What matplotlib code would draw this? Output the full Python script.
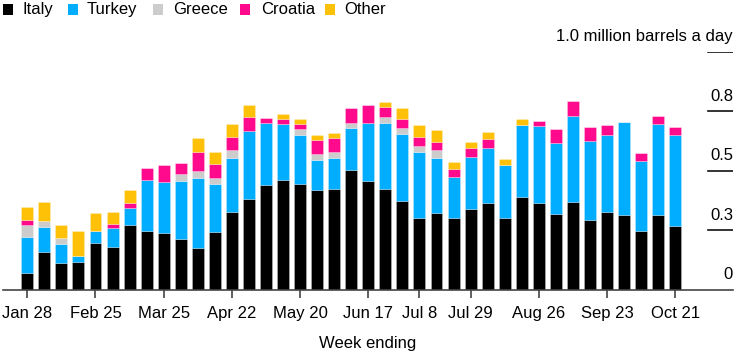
import matplotlib
matplotlib.use("Agg")
import matplotlib.pyplot as plt
from matplotlib.patches import Rectangle
from matplotlib.transforms import offset_copy
import numpy as np

plt.rcParams['font.family'] = ['Liberation Sans', 'DejaVu Sans']

weeks = ["Jan 28", "Feb 4", "Feb 11", "Feb 18", "Feb 25", "Mar 4", "Mar 11", "Mar 18",
         "Mar 25", "Apr 1", "Apr 8", "Apr 15", "Apr 22", "Apr 29", "May 6", "May 13",
         "May 20", "May 27", "Jun 3", "Jun 10", "Jun 17", "Jun 24", "Jul 1", "Jul 8",
         "Jul 15", "Jul 22", "Jul 29", "Aug 5", "Aug 12", "Aug 19", "Aug 26", "Sep 2",
         "Sep 9", "Sep 16", "Sep 23", "Sep 30", "Oct 7", "Oct 14", "Oct 21"]

italy = [0.071, 0.156, 0.110, 0.116, 0.197, 0.180, 0.271, 0.247, 0.236, 0.211,
         0.176, 0.242, 0.327, 0.382, 0.439, 0.459, 0.444, 0.418, 0.424, 0.504,
         0.458, 0.424, 0.373, 0.302, 0.323, 0.302, 0.337, 0.362, 0.302, 0.388,
         0.362, 0.317, 0.368, 0.291, 0.327, 0.312, 0.247, 0.312, 0.266]
turkey = [0.151, 0.105, 0.081, 0.025, 0.050, 0.077, 0.071, 0.213, 0.217, 0.246,
          0.293, 0.202, 0.227, 0.283, 0.262, 0.237, 0.207, 0.126, 0.128, 0.174,
          0.244, 0.278, 0.282, 0.278, 0.231, 0.172, 0.219, 0.234, 0.223, 0.303,
          0.324, 0.297, 0.363, 0.335, 0.324, 0.394, 0.292, 0.384, 0.385]
greece = [0.050, 0.025, 0.025, 0, 0, 0, 0, 0, 0, 0.027,
          0.029, 0.025, 0.031, 0, 0, 0, 0.025, 0.025, 0.025, 0.022,
          0, 0.024, 0.025, 0.025, 0.031, 0, 0, 0, 0, 0,
          0, 0, 0, 0, 0, 0, 0, 0, 0]
croatia = [0.020, 0, 0, 0, 0, 0.019, 0.020, 0.049, 0.070, 0.050,
           0.081, 0.060, 0.055, 0.060, 0.020, 0.020, 0.020, 0.060, 0.059, 0.062,
           0.074, 0.041, 0.035, 0.035, 0.035, 0.034, 0.039, 0.038, 0, 0,
           0.021, 0.060, 0.061, 0.059, 0.040, 0, 0.035, 0.035, 0.034]
other = [0.056, 0.081, 0.056, 0.106, 0.076, 0.052, 0.056, 0, 0, 0,
         0.056, 0.050, 0.056, 0.050, 0, 0.021, 0.021, 0.020, 0.021, 0,
         0, 0.022, 0.050, 0.050, 0.050, 0.027, 0.025, 0.027, 0.024, 0.026,
         0, 0, 0, 0, 0, 0, 0, 0, 0]

series_names = ["Italy", "Turkey", "Greece", "Croatia", "Other"]
series_colors = ["#000000", "#00adff", "#cccccc", "#ff0a8c", "#ffc107"]
tick_weeks = ["Jan 28", "Feb 25", "Mar 25", "Apr 22", "May 20", "Jun 17",
              "Jul 8", "Jul 29", "Aug 26", "Sep 23", "Oct 21"]
y_ticks = [0, 0.25, 0.5, 0.75, 1.0]
y_labels = ["0", "0.3", "0.5", "0.8", "1.0 million barrels a day"]

W, H = 746, 360
fig = plt.figure(figsize=(W / 100, H / 100), dpi=100)
ax = fig.add_axes([3 / W, (H - 289.5) / H, 730 / W, (289.5 - 51.7) / H])

x = np.arange(len(weeks))
bottom = np.zeros(len(weeks))
for name, vals, col in zip(series_names, [italy, turkey, greece, croatia, other], series_colors):
    v = np.array(vals, dtype=float)
    ax.bar(x, v, bottom=bottom, width=0.70, color=col, edgecolor=(1, 1, 1, 0.35),
           linewidth=0.5, zorder=2)
    bottom += v

ax.set_xlim(-1.425, 41.39)
ax.set_ylim(0, 1.0)

for s in ["top", "right", "left"]:
    ax.spines[s].set_visible(False)
ax.spines["bottom"].set_color("#444444")
ax.spines["bottom"].set_linewidth(1.2)
ax.spines["bottom"].set_zorder(3)

ax.set_yticks([])
ax.set_xticks([weeks.index(t) for t in tick_weeks])
ax.set_xticklabels(tick_weeks, fontsize=12, color="#000000")
ax.tick_params(axis="x", length=5.5, width=1.2, color="#444444", pad=6.5)

ax.set_xlabel("Week ending", fontsize=12, color="#000000", labelpad=10.5)

for yv, lab in zip(y_ticks, y_labels):
    if yv > 0:
        ax.axhline(yv, xmin=0.9658, xmax=1.0, color="#111111", lw=1.2, zorder=3)
    tr = offset_copy(ax.get_yaxis_transform(), fig=fig, x=0, y=7.5, units="points")
    ax.text(1.0, yv, lab, transform=tr, ha="right", va="baseline",
            fontsize=12, color="#000000")

# legend
lx_sq = [3.3, 68.3, 153.3, 240.0, 325.0]
lx_tx = [22.7, 87.0, 173.0, 261.0, 344.0]
for name, col, xs, xt in zip(series_names, series_colors, lx_sq, lx_tx):
    fig.add_artist(Rectangle((xs / W, (H - 14.5) / H), 10 / W, 10 / H,
                             transform=fig.transFigure, facecolor=col,
                             edgecolor="none"))
    fig.text(xt / W, (H - 9.5) / H, name, ha="left", va="center",
             fontsize=12, color="#000000")

fig.savefig("out.png", dpi=100)
